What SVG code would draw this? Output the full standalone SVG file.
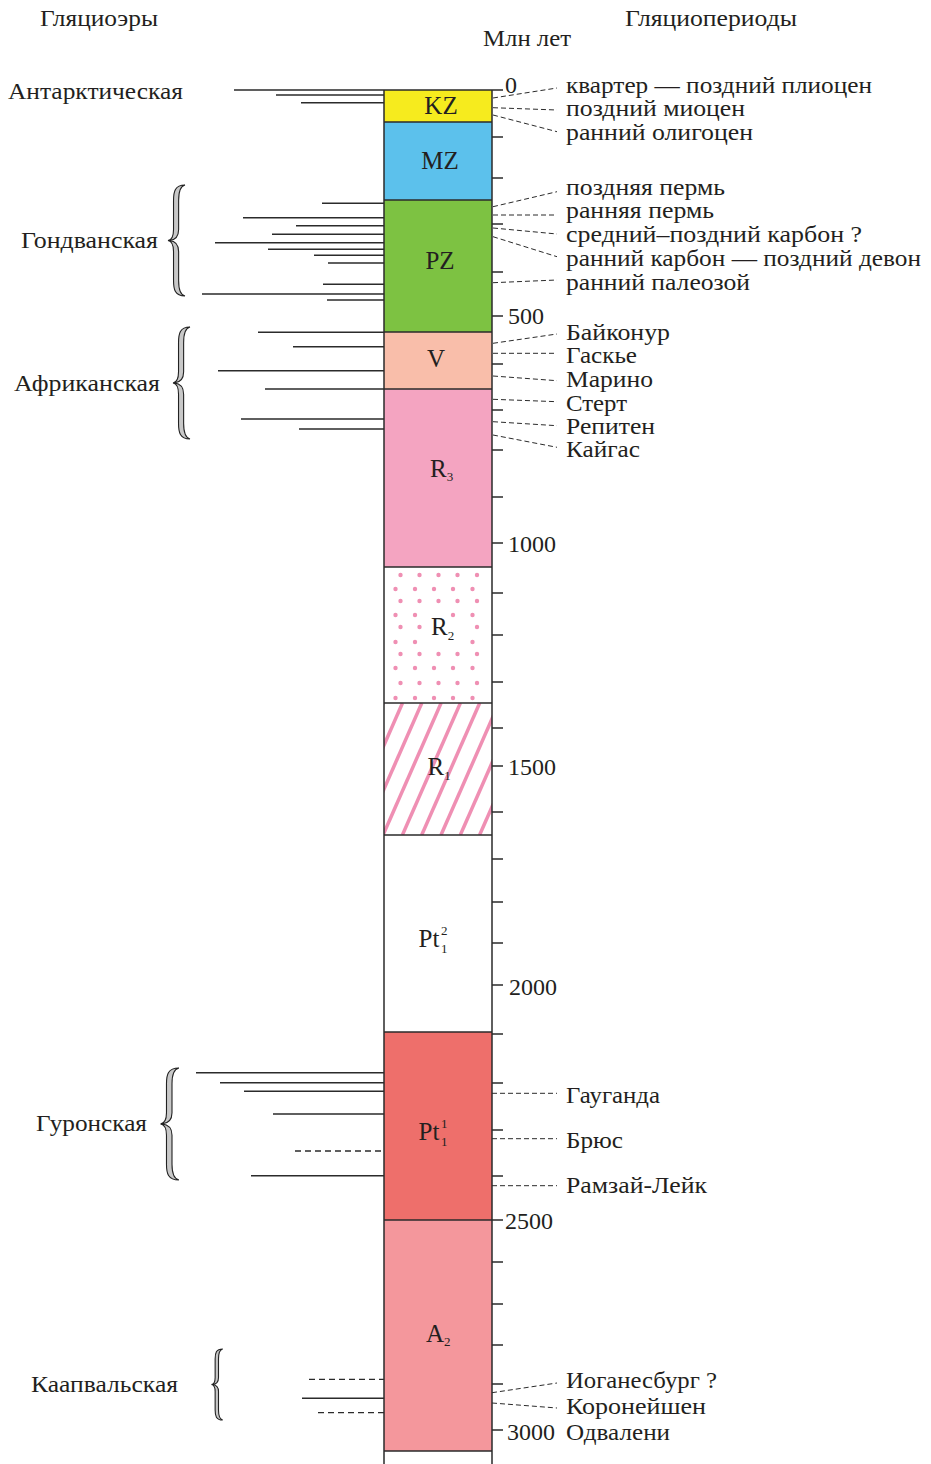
<svg xmlns="http://www.w3.org/2000/svg" width="931" height="1464" viewBox="0 0 931 1464">
<style>
text{font-family:"Liberation Serif","DejaVu Serif",serif;fill:#231f20;font-size:24px}
.bl{font-size:25px}
.sm{font-size:13px}
.ln{stroke:#2b2b2b;stroke-width:1.5;fill:none}
.dl{stroke:#2b2b2b;stroke-width:1.3;fill:none;stroke-dasharray:6 4}
.dr{stroke:#2b2b2b;stroke-width:1;fill:none;stroke-dasharray:5 3}
.tk{stroke:#2b2b2b;stroke-width:1.5}
.br{fill:#c8c8c8;stroke:#222;stroke-width:1.1;vector-effect:non-scaling-stroke}
.dot{fill:#ef8fb3}
.st{stroke:#ef8fb3;stroke-width:3.5}
</style>
<defs>
<path id="brace" class="br" d="M20,0 C8,0 6.5,6 6.5,14 L6.5,40 C6.5,46 4,49.5 0,50 C4,50.5 6.5,54 6.5,60 L6.5,86 C6.5,94 8,100 20,100 C14.5,99 12.5,94 12.5,86 L12.5,60 C12.5,54 9,50.5 1.5,50 C9,49.5 12.5,46 12.5,40 L12.5,14 C12.5,6 14.5,1 20,0 Z"/>
<clipPath id="r1clip"><rect x="384" y="703" width="108" height="132"/></clipPath>
</defs>

<g id="headers">
<text x="40" y="26" textLength="118" lengthAdjust="spacingAndGlyphs">Гляциоэры</text>
<text x="625" y="26" textLength="172" lengthAdjust="spacingAndGlyphs">Гляциопериоды</text>
<text x="483" y="46" textLength="88" lengthAdjust="spacingAndGlyphs">Млн лет</text>
</g>

<g id="column">
<rect id="KZ" x="384" y="90" width="108" height="32" fill="#f6eb1e"/>
<rect id="MZ" x="384" y="122" width="108" height="78" fill="#5cc1ec"/>
<rect id="PZ" x="384" y="200" width="108" height="132" fill="#7dc242"/>
<rect id="V" x="384" y="332" width="108" height="57" fill="#f9beaa"/>
<rect id="R3" x="384" y="389" width="108" height="178" fill="#f4a4c1"/>
<rect id="R2" x="384" y="567" width="108" height="136" fill="#fff"/>
<rect id="R1" x="384" y="703" width="108" height="132" fill="#fff"/>
<rect id="Pt12" x="384" y="835" width="108" height="197" fill="#fff"/>
<rect id="Pt11" x="384" y="1032" width="108" height="188" fill="#ee6f6b"/>
<rect id="A2" x="384" y="1220" width="108" height="231" fill="#f4979c"/>
<g id="R2dots">
<circle class="dot" cx="400.5" cy="575" r="2.2"/><circle class="dot" cx="419.5" cy="575" r="2.2"/><circle class="dot" cx="438.5" cy="575" r="2.2"/><circle class="dot" cx="457.5" cy="575" r="2.2"/><circle class="dot" cx="477" cy="575" r="2.2"/>
<circle class="dot" cx="395.5" cy="589" r="2.2"/><circle class="dot" cx="415" cy="589" r="2.2"/><circle class="dot" cx="434" cy="589" r="2.2"/><circle class="dot" cx="453" cy="589" r="2.2"/><circle class="dot" cx="472.5" cy="589" r="2.2"/>
<circle class="dot" cx="400.5" cy="601" r="2.2"/><circle class="dot" cx="419.5" cy="601" r="2.2"/><circle class="dot" cx="438.5" cy="601" r="2.2"/><circle class="dot" cx="457.5" cy="601" r="2.2"/><circle class="dot" cx="477" cy="601" r="2.2"/>
<circle class="dot" cx="395.5" cy="615" r="2.2"/><circle class="dot" cx="415" cy="615" r="2.2"/><circle class="dot" cx="453" cy="615" r="2.2"/><circle class="dot" cx="472.5" cy="615" r="2.2"/>
<circle class="dot" cx="400.5" cy="627" r="2.2"/><circle class="dot" cx="419.5" cy="627" r="2.2"/><circle class="dot" cx="477" cy="627" r="2.2"/>
<circle class="dot" cx="395.5" cy="642" r="2.2"/><circle class="dot" cx="415" cy="642" r="2.2"/><circle class="dot" cx="472.5" cy="642" r="2.2"/>
<circle class="dot" cx="400.5" cy="654" r="2.2"/><circle class="dot" cx="419.5" cy="654" r="2.2"/><circle class="dot" cx="438.5" cy="654" r="2.2"/><circle class="dot" cx="457.5" cy="654" r="2.2"/><circle class="dot" cx="477" cy="654" r="2.2"/>
<circle class="dot" cx="395.5" cy="668" r="2.2"/><circle class="dot" cx="415" cy="668" r="2.2"/><circle class="dot" cx="434" cy="668" r="2.2"/><circle class="dot" cx="453" cy="668" r="2.2"/><circle class="dot" cx="472.5" cy="668" r="2.2"/>
<circle class="dot" cx="400.5" cy="683" r="2.2"/><circle class="dot" cx="419.5" cy="683" r="2.2"/><circle class="dot" cx="438.5" cy="683" r="2.2"/><circle class="dot" cx="457.5" cy="683" r="2.2"/><circle class="dot" cx="477" cy="683" r="2.2"/>
<circle class="dot" cx="395.5" cy="698" r="2.2"/><circle class="dot" cx="415" cy="698" r="2.2"/><circle class="dot" cx="434" cy="698" r="2.2"/><circle class="dot" cx="453" cy="698" r="2.2"/><circle class="dot" cx="472.5" cy="698" r="2.2"/>
</g>
<g id="R1stripes" clip-path="url(#r1clip)">
<line class="st" x1="383.2" y1="703" x2="325.2" y2="835"/>
<line class="st" x1="402.5" y1="703" x2="344.5" y2="835"/>
<line class="st" x1="421.8" y1="703" x2="363.8" y2="835"/>
<line class="st" x1="441.1" y1="703" x2="383.1" y2="835"/>
<line class="st" x1="460.4" y1="703" x2="402.4" y2="835"/>
<line class="st" x1="479.7" y1="703" x2="421.7" y2="835"/>
<line class="st" x1="499" y1="703" x2="441" y2="835"/>
<line class="st" x1="518.3" y1="703" x2="460.3" y2="835"/>
<line class="st" x1="537.6" y1="703" x2="479.6" y2="835"/>
<line class="st" x1="556.9" y1="703" x2="498.9" y2="835"/>
</g>
<path class="ln" d="M384,90 V1464 M492,90 V1464 M384,90 H492 M384,122 H492 M384,200 H492 M384,332 H492 M384,389 H492 M384,567 H492 M384,703 H492 M384,835 H492 M384,1032 H492 M384,1220 H492 M384,1451 H492"/>
</g>

<g id="ticks">
<path class="tk" d="M492,90H503 M492,137H503 M492,178H503 M492,224H503 M492,272H503 M492,316H503 M492,364H503 M492,410H503 M492,450H503 M492,497H503 M492,543H503 M492,593H503 M492,635H503 M492,682H503 M492,728H503 M492,766H503 M492,812H503 M492,859H503 M492,902H503 M492,943H503 M492,985H503 M492,1034H503 M492,1083H503 M492,1130H503 M492,1176H503 M492,1220H503 M492,1262H503 M492,1304H503 M492,1345H503 M492,1384H503 M492,1430H503"/>
<text x="505" y="93">0</text>
<text x="508" y="324">500</text>
<text x="508" y="552">1000</text>
<text x="508" y="775">1500</text>
<text x="509" y="995">2000</text>
<text x="505" y="1229">2500</text>
<text x="507" y="1440">3000</text>
</g>

<g id="block-labels">
<text class="bl" x="441" y="114" text-anchor="middle">KZ</text>
<text class="bl" x="440" y="169" text-anchor="middle">MZ</text>
<text class="bl" x="440" y="269" text-anchor="middle">PZ</text>
<text class="bl" x="436" y="367" text-anchor="middle">V</text>
<text class="bl" x="430" y="477">R<tspan class="sm" dy="4">3</tspan></text>
<text class="bl" x="431" y="635">R<tspan class="sm" dy="5">2</tspan></text>
<text class="bl" x="427.5" y="775">R<tspan class="sm" dy="5">1</tspan></text>
<text class="bl" x="418.5" y="947">Pt</text><text class="sm" x="441" y="935">2</text><text class="sm" x="441" y="953">1</text>
<text class="bl" x="418.5" y="1140">Pt</text><text class="sm" x="441" y="1128">1</text><text class="sm" x="441" y="1146">1</text>
<text class="bl" x="426" y="1342">A<tspan class="sm" dy="4">2</tspan></text>
</g>

<g id="era-Antarctic">
<text x="8" y="99" textLength="175" lengthAdjust="spacingAndGlyphs">Антарктическая</text>
<path class="ln" d="M234,90H384 M276,95H384 M301,102.7H384"/>
</g>
<g id="era-Gondwana">
<text x="21" y="248" textLength="137" lengthAdjust="spacingAndGlyphs">Гондванская</text>
<use href="#brace" transform="translate(168,185) scale(0.85,1.11)"/>
<path class="ln" d="M322,203.3H384 M243,217.7H384 M296,225.7H384 M272,234.3H384 M215,242.7H384 M268,249.3H384 M314,255.3H384 M328,263H384 M323,284.3H384 M202,294H384 M327,300H384"/>
</g>
<g id="era-African">
<text x="14" y="391" textLength="146" lengthAdjust="spacingAndGlyphs">Африканская</text>
<use href="#brace" transform="translate(173,327) scale(0.85,1.12)"/>
<path class="ln" d="M258,332.3H384 M293,346.7H384 M218,370.7H384 M265,389H384 M241,419H384 M299,429H384"/>
</g>
<g id="era-Huronian">
<text x="36" y="1131" textLength="111" lengthAdjust="spacingAndGlyphs">Гуронская</text>
<use href="#brace" transform="translate(160.5,1068) scale(0.92,1.12)"/>
<path class="ln" d="M196,1072.7H384 M220,1082.7H384 M244,1091.3H384 M273,1114H384 M251,1175.7H384"/>
<path class="dl" d="M295,1151H384"/>
</g>
<g id="era-Kaapvaal">
<text x="31" y="1392" textLength="147" lengthAdjust="spacingAndGlyphs">Каапвальская</text>
<use href="#brace" transform="translate(211.5,1349) scale(0.56,0.71)"/>
<path class="ln" d="M302,1398.3H384"/>
<path class="dl" d="M309,1379.3H384 M318,1412.7H384"/>
</g>

<g id="connectors">
<path class="dr" d="M493,98L557,88 M493,107.7L557,110 M493,115L557,131.7 M493,206.7L557,191.7 M493,215L557,215 M493,228L557,234 M493,236.7L557,256.7 M493,282.7L557,280 M493,343.3L557,334 M493,353.3L557,353.3 M493,376L557,380.7 M493,399.3L557,401.7 M493,421.7L557,425.7 M493,435L557,447.3 M492,1093.3H557 M492,1138.7H557 M492,1185.7H557 M492,1392.7L557,1383 M492,1403L557,1408"/>
</g>

<g id="period-labels">
<text x="566" y="93" textLength="306" lengthAdjust="spacingAndGlyphs">квартер — поздний плиоцен</text>
<text x="566" y="116" textLength="179" lengthAdjust="spacingAndGlyphs">поздний миоцен</text>
<text x="566" y="140" textLength="187" lengthAdjust="spacingAndGlyphs">ранний олигоцен</text>
<text x="566" y="195" textLength="159" lengthAdjust="spacingAndGlyphs">поздняя пермь</text>
<text x="566" y="218" textLength="148" lengthAdjust="spacingAndGlyphs">ранняя пермь</text>
<text x="566" y="242" textLength="296" lengthAdjust="spacingAndGlyphs">средний–поздний карбон ?</text>
<text x="566" y="266" textLength="355" lengthAdjust="spacingAndGlyphs">ранний карбон — поздний девон</text>
<text x="566" y="290" textLength="184" lengthAdjust="spacingAndGlyphs">ранний палеозой</text>
<text x="566" y="340" textLength="104" lengthAdjust="spacingAndGlyphs">Байконур</text>
<text x="566" y="363" textLength="71" lengthAdjust="spacingAndGlyphs">Гаскье</text>
<text x="566" y="387" textLength="87" lengthAdjust="spacingAndGlyphs">Марино</text>
<text x="566" y="411" textLength="61" lengthAdjust="spacingAndGlyphs">Стерт</text>
<text x="566" y="434" textLength="89" lengthAdjust="spacingAndGlyphs">Репитен</text>
<text x="566" y="457" textLength="74" lengthAdjust="spacingAndGlyphs">Кайгас</text>
<text x="566" y="1103" textLength="94" lengthAdjust="spacingAndGlyphs">Гауганда</text>
<text x="566" y="1148" textLength="57" lengthAdjust="spacingAndGlyphs">Брюс</text>
<text x="566" y="1193" textLength="141" lengthAdjust="spacingAndGlyphs">Рамзай-Лейк</text>
<text x="566" y="1388" textLength="151" lengthAdjust="spacingAndGlyphs">Иоганесбург ?</text>
<text x="566" y="1414" textLength="140" lengthAdjust="spacingAndGlyphs">Коронейшен</text>
<text x="566" y="1440" textLength="104" lengthAdjust="spacingAndGlyphs">Одвалени</text>
</g>
</svg>
